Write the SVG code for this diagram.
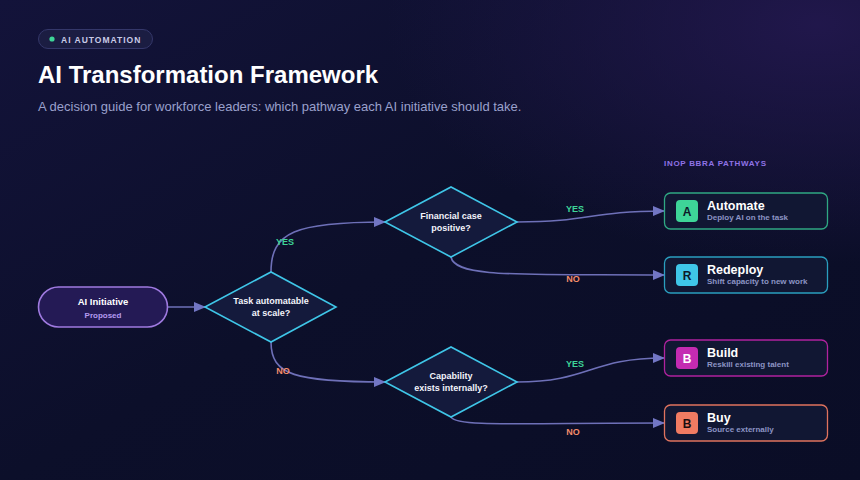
<svg xmlns="http://www.w3.org/2000/svg" width="860" height="480" viewBox="0 0 860 480">
<defs>
<linearGradient id="bg" x1="0" y1="0" x2="1" y2="1"><stop offset="0" stop-color="#13133a"/><stop offset="0.5" stop-color="#0c0f2a"/><stop offset="1" stop-color="#0a0d26"/></linearGradient>
<radialGradient id="glow" cx="0.95" cy="0.05" r="0.5"><stop offset="0" stop-color="#23184f" stop-opacity="0.9"/><stop offset="1" stop-color="#23184f" stop-opacity="0"/></radialGradient>
<marker id="ar" viewBox="0 0 12 10" refX="11" refY="5" markerWidth="12" markerHeight="10" markerUnits="userSpaceOnUse" orient="auto"><path d="M0,0 L12,5 L0,10 Z" fill="#7276c4"/></marker>
</defs>
<style>
text{font-family:"Liberation Sans",Arial,sans-serif}
.c{fill:none;stroke:#6e70b8;stroke-width:1.6}
.dia{fill:#141a3c;stroke:#3fc6e8;stroke-width:1.6}
.dt{fill:#f2f3fa;font-size:9px;font-weight:bold;text-anchor:middle}
.yes{fill:#3ed598;font-size:9px;font-weight:bold;text-anchor:middle}
.no{fill:#f38c6a;font-size:9px;font-weight:bold;text-anchor:middle}
.bx{fill:#111733;stroke-width:1.3}
.bt{fill:#ffffff;font-size:12.5px;font-weight:bold}
.bs{fill:#8c94c4;font-size:8px;font-weight:bold}
.ic{font-size:12px;font-weight:bold;text-anchor:middle}
</style>
<rect width="860" height="480" fill="url(#bg)"/>
<rect width="860" height="480" fill="url(#glow)"/>
<g id="header">
<rect x="38.500" y="29.500" width="114" height="19" rx="9.500" fill="#1b1d42" stroke="#34376a"/>
<circle cx="52" cy="39" r="2.600" fill="#3ed598"/>
<text x="61" y="42.500" fill="#c9cbe6" font-size="8.500" font-weight="bold" letter-spacing="1">AI AUTOMATION</text>
<text x="38" y="83" fill="#ffffff" font-size="24" font-weight="bold">AI Transformation Framework</text>
<text x="38" y="111" fill="#9aa0cc" font-size="13">A decision guide for workforce leaders: which pathway each AI initiative should take.</text>
<text x="664" y="166" fill="#8f72e6" font-size="8" font-weight="bold" letter-spacing="0.7">INOP BBRA PATHWAYS</text>
</g>
<g id="connectors">
<path class="c" d="M167,307 L205,307" marker-end="url(#ar)"/>
<path class="c" d="M271,272 C271,232 295,222 385,222" marker-end="url(#ar)"/>
<path class="c" d="M271,342 C271,375 295,382 385,382" marker-end="url(#ar)"/>
<path class="c" d="M517,222 C590,222 590,211 664,211" marker-end="url(#ar)"/>
<path class="c" d="M451,257 C455,278 520,274 664,275" marker-end="url(#ar)"/>
<path class="c" d="M517,382 C590,382 590,358 664,358" marker-end="url(#ar)"/>
<path class="c" d="M451,417 C455,427 520,423 664,423" marker-end="url(#ar)"/>
<text class="yes" x="285" y="245">YES</text>
<text class="no" x="283" y="374">NO</text>
<text class="yes" x="575" y="212">YES</text>
<text class="no" x="573" y="282">NO</text>
<text class="yes" x="575" y="367">YES</text>
<text class="no" x="573" y="435">NO</text>
</g>
<g id="start">
<rect x="38.500" y="287" width="129" height="40" rx="20" fill="#241a55" stroke="#9f7ae0" stroke-width="1.6"/>
<text x="103" y="305" fill="#ffffff" font-size="9.500" font-weight="bold" text-anchor="middle">AI Initiative</text>
<text x="103" y="317.500" fill="#b49af0" font-size="8" font-weight="bold" text-anchor="middle">Proposed</text>
</g>
<g id="d1"><path class="dia" d="M205,307 L271,272 L336,307 L271,342 Z"/><text class="dt" x="271" y="304">Task automatable</text><text class="dt" x="271" y="316">at scale?</text></g>
<g id="d2"><path class="dia" d="M385,222 L451,187 L517,222 L451,257 Z"/><text class="dt" x="451" y="219">Financial case</text><text class="dt" x="451" y="231">positive?</text></g>
<g id="d3"><path class="dia" d="M385,382 L451,347 L517,382 L451,417 Z"/><text class="dt" x="451" y="379">Capability</text><text class="dt" x="451" y="391">exists internally?</text></g>
<g id="automate"><rect class="bx" x="664.500" y="193" width="163" height="36" rx="6" stroke="#2fa883"/><rect x="676" y="200" width="22" height="22" rx="4" fill="#3ed598"/><text class="ic" x="687" y="215.500" fill="#0d1a2a">A</text><text class="bt" x="707" y="210">Automate</text><text class="bs" x="707" y="220">Deploy AI on the task</text></g>
<g id="redeploy"><rect class="bx" x="664.500" y="257" width="163" height="36" rx="6" stroke="#2a9fbf"/><rect x="676" y="264" width="22" height="22" rx="4" fill="#3fc6e8"/><text class="ic" x="687" y="279.500" fill="#0d1a2a">R</text><text class="bt" x="707" y="274">Redeploy</text><text class="bs" x="707" y="284">Shift capacity to new work</text></g>
<g id="build"><rect class="bx" x="664.500" y="340" width="163" height="36" rx="6" stroke="#b0229e"/><rect x="676" y="347" width="22" height="22" rx="4" fill="#c42bb2"/><text class="ic" x="687" y="362.500" fill="#ffffff">B</text><text class="bt" x="707" y="357">Build</text><text class="bs" x="707" y="367">Reskill existing talent</text></g>
<g id="buy"><rect class="bx" x="664.500" y="405" width="163" height="36" rx="6" stroke="#e0735e"/><rect x="676" y="412" width="22" height="22" rx="4" fill="#f07b62"/><text class="ic" x="687" y="427.500" fill="#1a0d10">B</text><text class="bt" x="707" y="422">Buy</text><text class="bs" x="707" y="432">Source externally</text></g>
</svg>
